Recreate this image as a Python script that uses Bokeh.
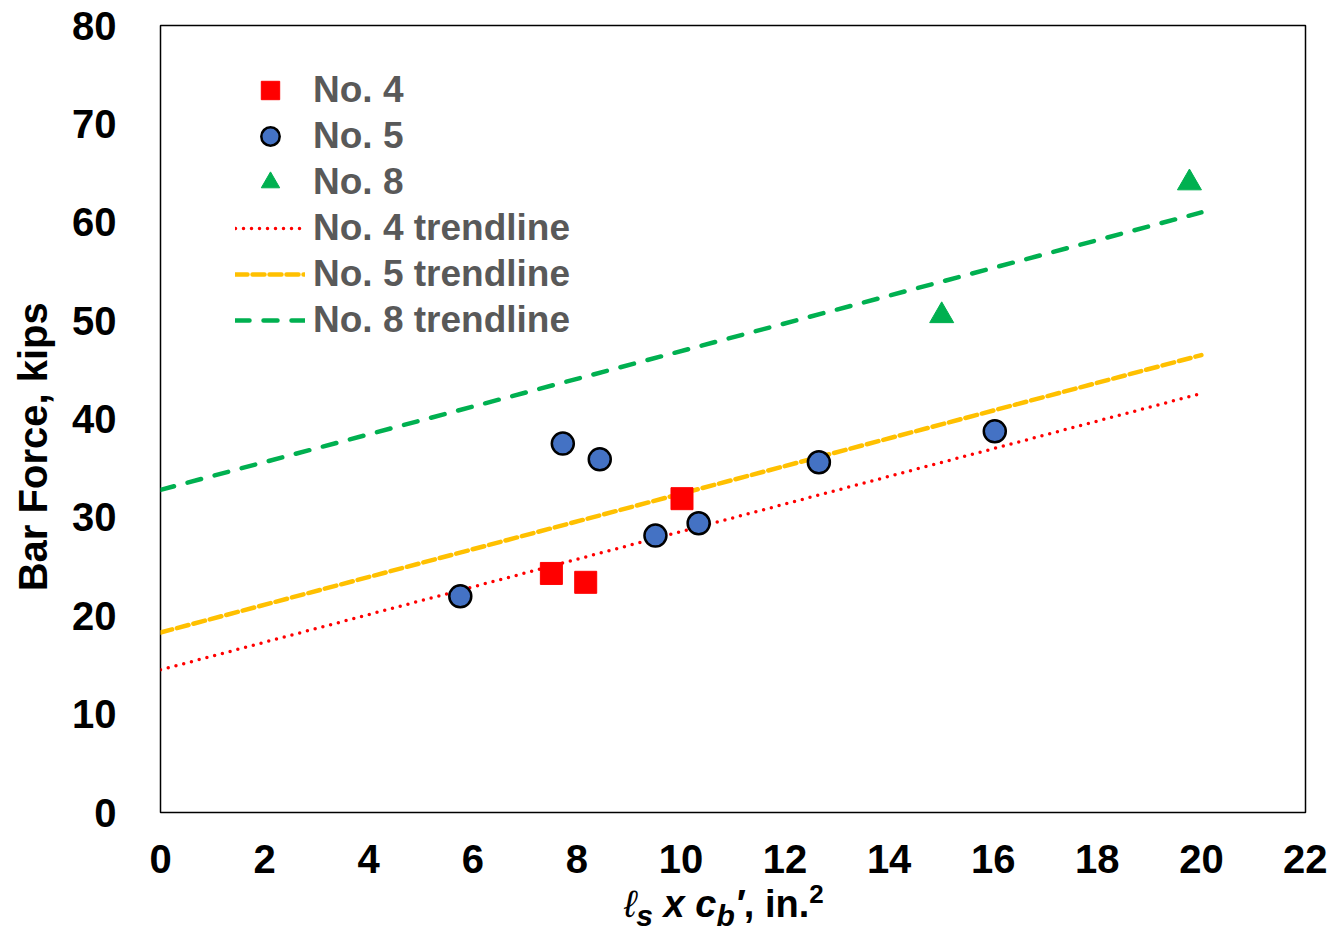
from bokeh.plotting import figure
from bokeh.layouts import column
from bokeh.models import Range1d, Legend, LegendItem, FixedTicker, Div
from bokeh.embed import file_html
from bokeh.resources import INLINE

# ---- data ----
no4_x = [7.51, 8.17, 10.02]
no4_y = [24.3, 23.4, 31.9]
no5_x = [5.76, 7.73, 8.44, 9.51, 10.34, 12.65, 16.03]
no5_y = [21.97, 37.5, 35.9, 28.15, 29.4, 35.6, 38.75]
no8_x = [15.01, 19.77]
no8_y = [50.5, 64.0]
trend_x = [0, 20]
trend4_y = [14.5, 42.6]
trend5_y = [18.3, 46.5]
trend8_y = [32.8, 61.0]
x_ticks = [0, 2, 4, 6, 8, 10, 12, 14, 16, 18, 20, 22]
y_ticks = [0, 10, 20, 30, 40, 50, 60, 70, 80]

FONT = "Liberation Sans"
W, H = 1327, 885
TITLE_H = 48
FL, FR, FT, FB = 160, 1305, 25, 812   # frame edges in canvas pixels

p = figure(width=W, height=H, output_backend="svg", toolbar_location=None,
           x_range=Range1d(0, 22), y_range=Range1d(0, 80),
           min_border_left=FL, min_border_right=W - FR, min_border_top=FT, min_border_bottom=H - FB)
p.xgrid.visible = False
p.ygrid.visible = False
p.outline_line_color = "black"
p.outline_line_width = 1.5
p.background_fill_color = "white"
p.border_fill_color = "white"

for ax in (p.xaxis[0], p.yaxis[0]):
    ax.axis_line_color = None
    ax.major_tick_line_color = None
    ax.minor_tick_line_color = None
    ax.major_label_text_font = FONT
    ax.major_label_text_font_style = "bold"
    ax.major_label_text_font_size = "40px"
    ax.major_label_text_color = "black"
p.xaxis[0].ticker = FixedTicker(ticks=x_ticks)
p.yaxis[0].ticker = FixedTicker(ticks=y_ticks)
p.xaxis[0].major_label_standoff = 26
p.yaxis[0].major_label_standoff = 38

p.yaxis[0].axis_label = "Bar Force, kips" + "\u00a0" * 5
p.yaxis[0].axis_label_text_font = FONT
p.yaxis[0].axis_label_text_font_style = "bold"
p.yaxis[0].axis_label_text_font_size = "40px"
p.yaxis[0].axis_label_text_color = "black"
p.yaxis[0].axis_label_standoff = 14

# trendlines
r_t4 = p.line(trend_x, trend4_y, line_color="#FF0000", line_width=3.5, line_dash="0 8", line_cap="round")
r_t5 = p.line(trend_x, trend5_y, line_color="#FFC000", line_width=4.5, line_dash="12 5", line_cap="round")
r_t8 = p.line(trend_x, trend8_y, line_color="#00B050", line_width=4.5, line_dash="14 14", line_cap="round")

# points
r4 = p.scatter(no4_x, no4_y, marker="square", size=22, fill_color="#FF0000", line_color="#FF0000")
r5 = p.scatter(no5_x, no5_y, marker="circle", size=22, fill_color="#4472C4", line_color="black", line_width=2.5)
r8 = p.scatter(no8_x, no8_y, marker="triangle", size=24, fill_color="#00B050", line_color="#00B050")

legend = Legend(items=[
    LegendItem(label="No. 4", renderers=[r4]),
    LegendItem(label="No. 5", renderers=[r5]),
    LegendItem(label="No. 8", renderers=[r8]),
    LegendItem(label="No. 4 trendline", renderers=[r_t4]),
    LegendItem(label="No. 5 trendline", renderers=[r_t5]),
    LegendItem(label="No. 8 trendline", renderers=[r_t8]),
], location=(75, (FB - FT) - 42 - 6 * 46))
legend.label_text_font = FONT
legend.label_text_font_style = "bold"
legend.label_text_font_size = "37px"
legend.label_text_color = "#595959"
legend.glyph_width = 70
legend.glyph_height = 46
legend.label_height = 46
legend.label_standoff = 8
legend.spacing = 0
legend.padding = 0
legend.margin = 0
legend.border_line_color = None
legend.background_fill_alpha = 0
p.add_layout(legend)

# x-axis title with subscripts / superscript, as real HTML text
title_html = (
    '<span style="font-family:\'Liberation Sans\',Arial,sans-serif;font-weight:bold;'
    'font-size:38px;line-height:38px;color:black;white-space:nowrap">'
    '<span style="font-style:italic;font-weight:normal">ℓ</span>'
    '<sub style="font-style:italic;font-size:30px;line-height:0">s</sub> '
    '<i>x</i> <i>c</i>'
    '<sub style="font-style:italic;font-size:30px;line-height:0">b</sub>'
    '<i>′</i>, in.'
    '<sup style="font-size:26px;line-height:0">2</sup>'
    '</span>'
)
xtitle = Div(text=title_html, width=W, height=TITLE_H, margin=0,
             styles={"font-family": "'Liberation Sans', Arial, sans-serif",
                     "font-weight": "bold", "font-size": "38px", "color": "black",
                     "line-height": "38px", "white-space": "nowrap",
                     "padding-left": "624px", "box-sizing": "border-box",
                     "background-color": "white"})

layout = column(p, xtitle, spacing=0)

open("out.html", "w").write(file_html(layout, INLINE))
